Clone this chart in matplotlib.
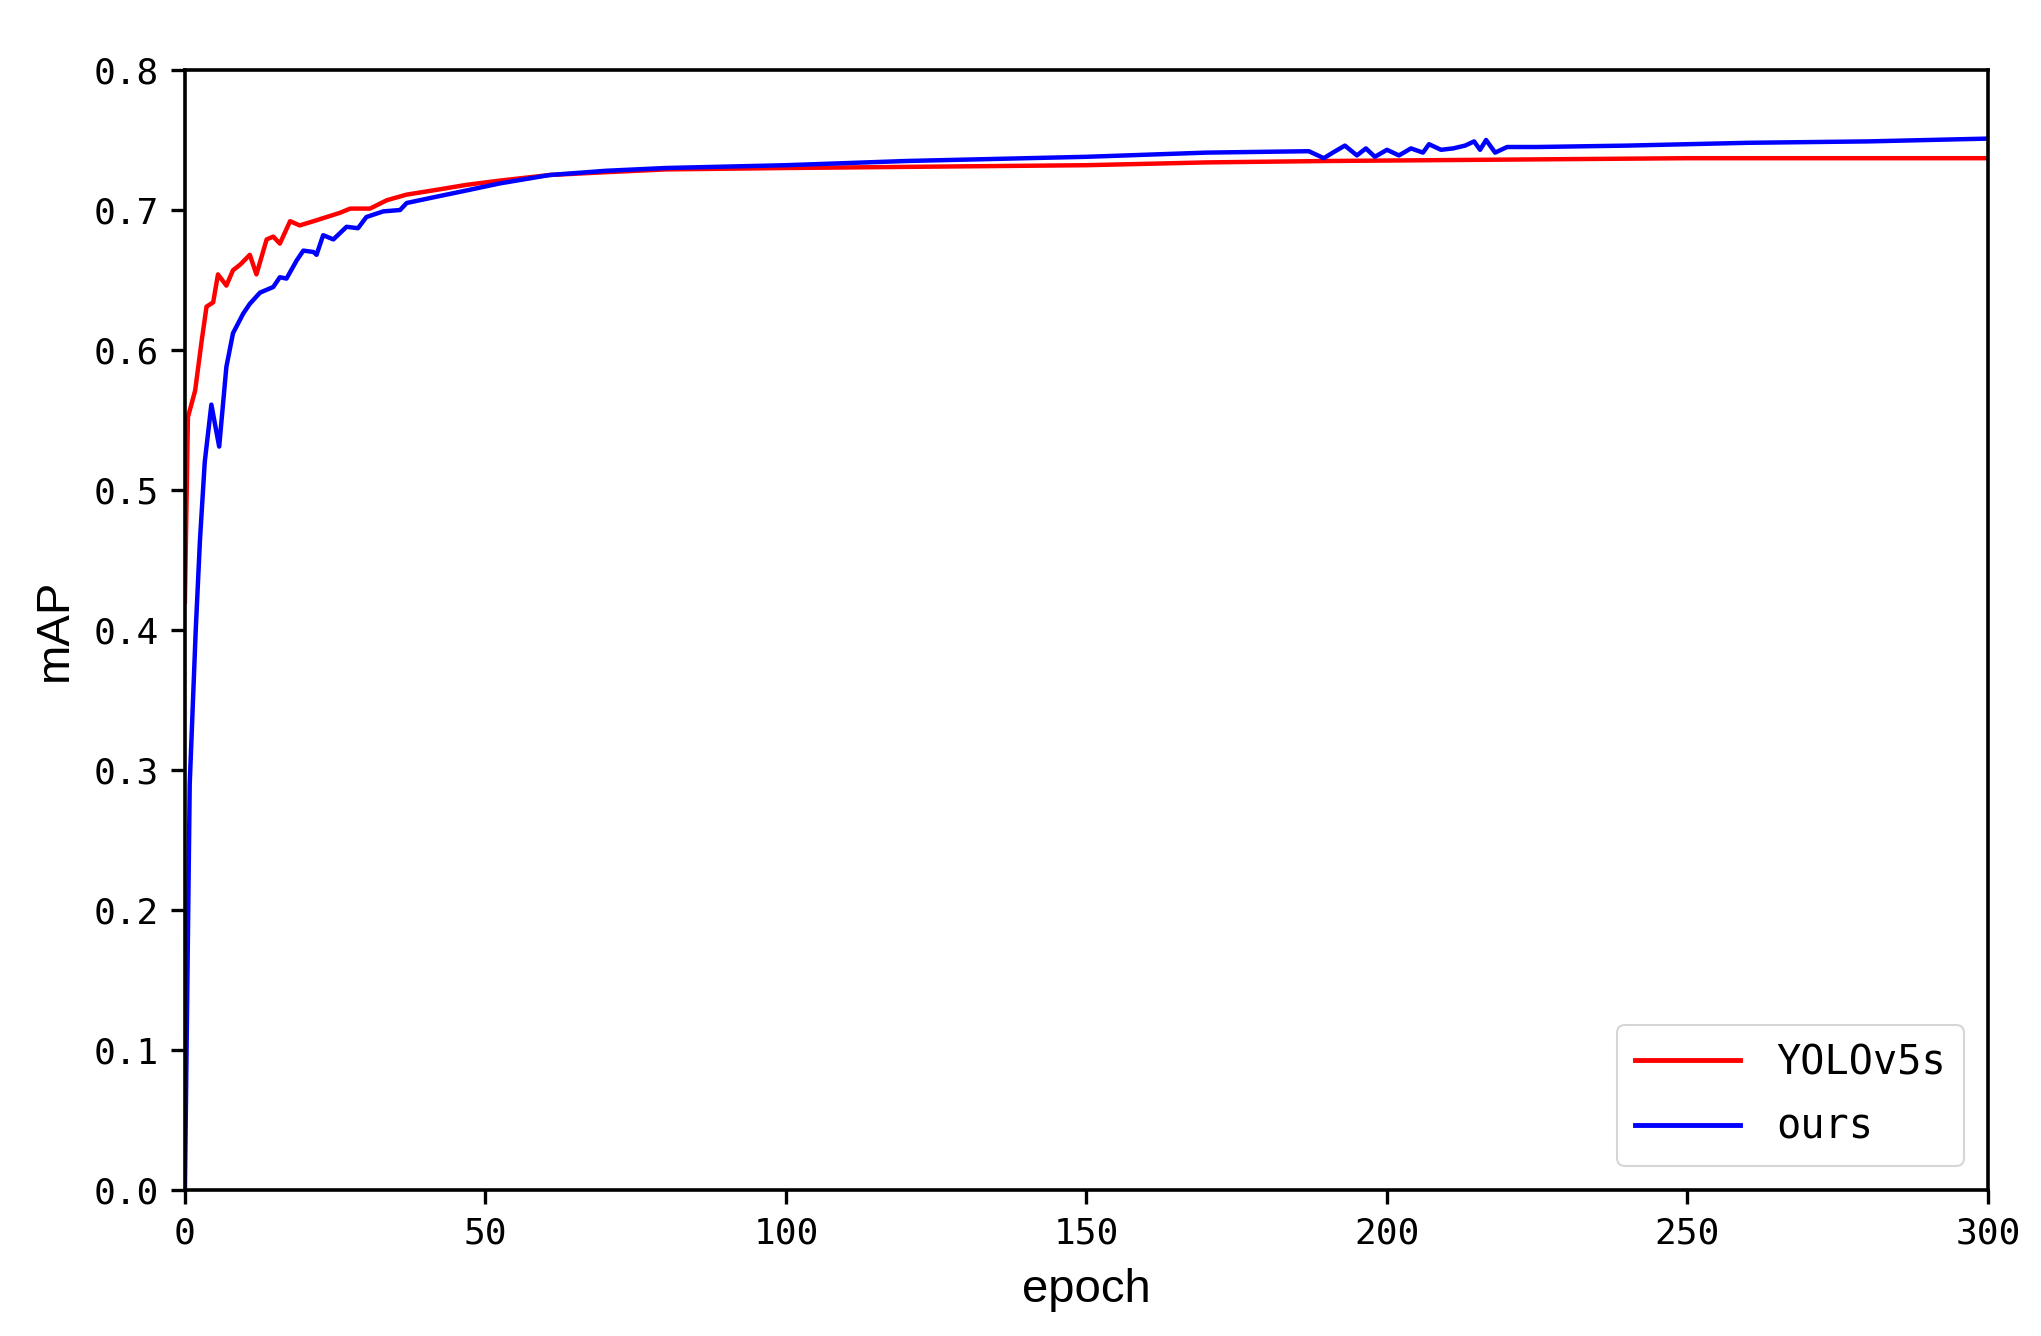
import matplotlib
matplotlib.use('Agg')
import matplotlib.pyplot as plt

# values
yolo_epochs = [0, 0.5, 1.7, 2.8, 3.6, 4.7, 5.5, 6.9, 8.0, 9.2, 10.8, 11.9, 13.6, 14.7,
               15.8, 17.5, 19.1, 21.4, 23.6, 25.8, 27.5, 30.8, 33.6, 36.9, 41.3, 46.9,
               52.4, 60.7, 70, 80, 100, 125, 150, 170, 190, 220, 250, 270, 300]
yolo_map = [0.42, 0.552, 0.571, 0.607, 0.631, 0.634, 0.654, 0.646, 0.657, 0.661, 0.668,
            0.654, 0.679, 0.681, 0.676, 0.692, 0.689, 0.692, 0.695, 0.698, 0.701, 0.701,
            0.707, 0.711, 0.714, 0.718, 0.721, 0.725, 0.727, 0.729, 0.730, 0.731, 0.732,
            0.734, 0.735, 0.736, 0.737, 0.737, 0.737]

ours_epochs = [0, 0.8, 1.8, 2.5, 3.3, 4.4, 5.7, 6.9, 8.0, 9.7, 10.8, 12.5, 14.7, 15.8,
               16.9, 18.6, 19.7, 21.4, 21.9, 23.0, 24.7, 26.9, 28.8, 30.2, 33.0, 35.8,
               36.9, 41.3, 46.9, 52.4, 60.7, 70, 80, 100, 120, 150, 170, 187,
               189.5, 191, 193, 195, 196.5, 198, 200, 202, 204, 206, 207, 209, 211,
               213, 214.5, 215.5, 216.5, 218, 220, 225, 240, 260, 280, 300]
ours_map = [0.0, 0.29, 0.40, 0.464, 0.52, 0.561, 0.531, 0.588, 0.612, 0.626, 0.633, 0.641,
            0.645, 0.652, 0.651, 0.664, 0.671, 0.670, 0.668, 0.682, 0.679, 0.688, 0.687,
            0.695, 0.699, 0.700, 0.705, 0.709, 0.714, 0.719, 0.725, 0.728, 0.730, 0.732,
            0.735, 0.738, 0.741, 0.742,
            0.737, 0.741, 0.746, 0.739, 0.744, 0.738, 0.743, 0.739, 0.744, 0.741, 0.747,
            0.743, 0.744, 0.746, 0.749, 0.743, 0.750, 0.741, 0.745, 0.745, 0.746, 0.748,
            0.749, 0.751]

labels = ['YOLOv5s', 'ours']
x_ticks = [0, 50, 100, 150, 200, 250, 300]
y_ticks = [0.0, 0.1, 0.2, 0.3, 0.4, 0.5, 0.6, 0.7, 0.8]

fig = plt.figure(figsize=(20.41, 13.36), dpi=100)
ax = fig.add_axes([0.0906, 0.1093, 0.8834, 0.8383])

ax.plot(yolo_epochs, yolo_map, color='red', lw=3.2, label=labels[0])
ax.plot(ours_epochs, ours_map, color='blue', lw=3.2, label=labels[1])

ax.set_xlim(0, 300)
ax.set_ylim(0, 0.8)
ax.set_xticks(x_ticks)
ax.set_yticks(y_ticks)
ax.set_yticklabels([f'{v:.1f}' for v in y_ticks])

for lbl in ax.get_xticklabels() + ax.get_yticklabels():
    lbl.set_family('DejaVu Sans Mono')
ax.tick_params(labelsize=26, length=10, width=2.4, pad=9)
for s in ax.spines.values():
    s.set_linewidth(2.6)

ax.set_xlabel('epoch', fontsize=34, family='Liberation Sans', labelpad=13)
ax.set_ylabel('mAP', fontsize=34, family='Liberation Sans', labelpad=12)

leg = ax.legend(loc='lower right', handlelength=2.6,
                prop={'family': 'DejaVu Sans Mono', 'size': 29}, borderpad=0.45,
                labelspacing=0.6, handletextpad=0.9, borderaxespad=0.6)
leg.get_frame().set_edgecolor('#cccccc')
leg.get_frame().set_linewidth(1.5)
for h in leg.get_lines():
    h.set_linewidth(3.5)

plt.savefig('out.png', dpi=100)
plt.close()
